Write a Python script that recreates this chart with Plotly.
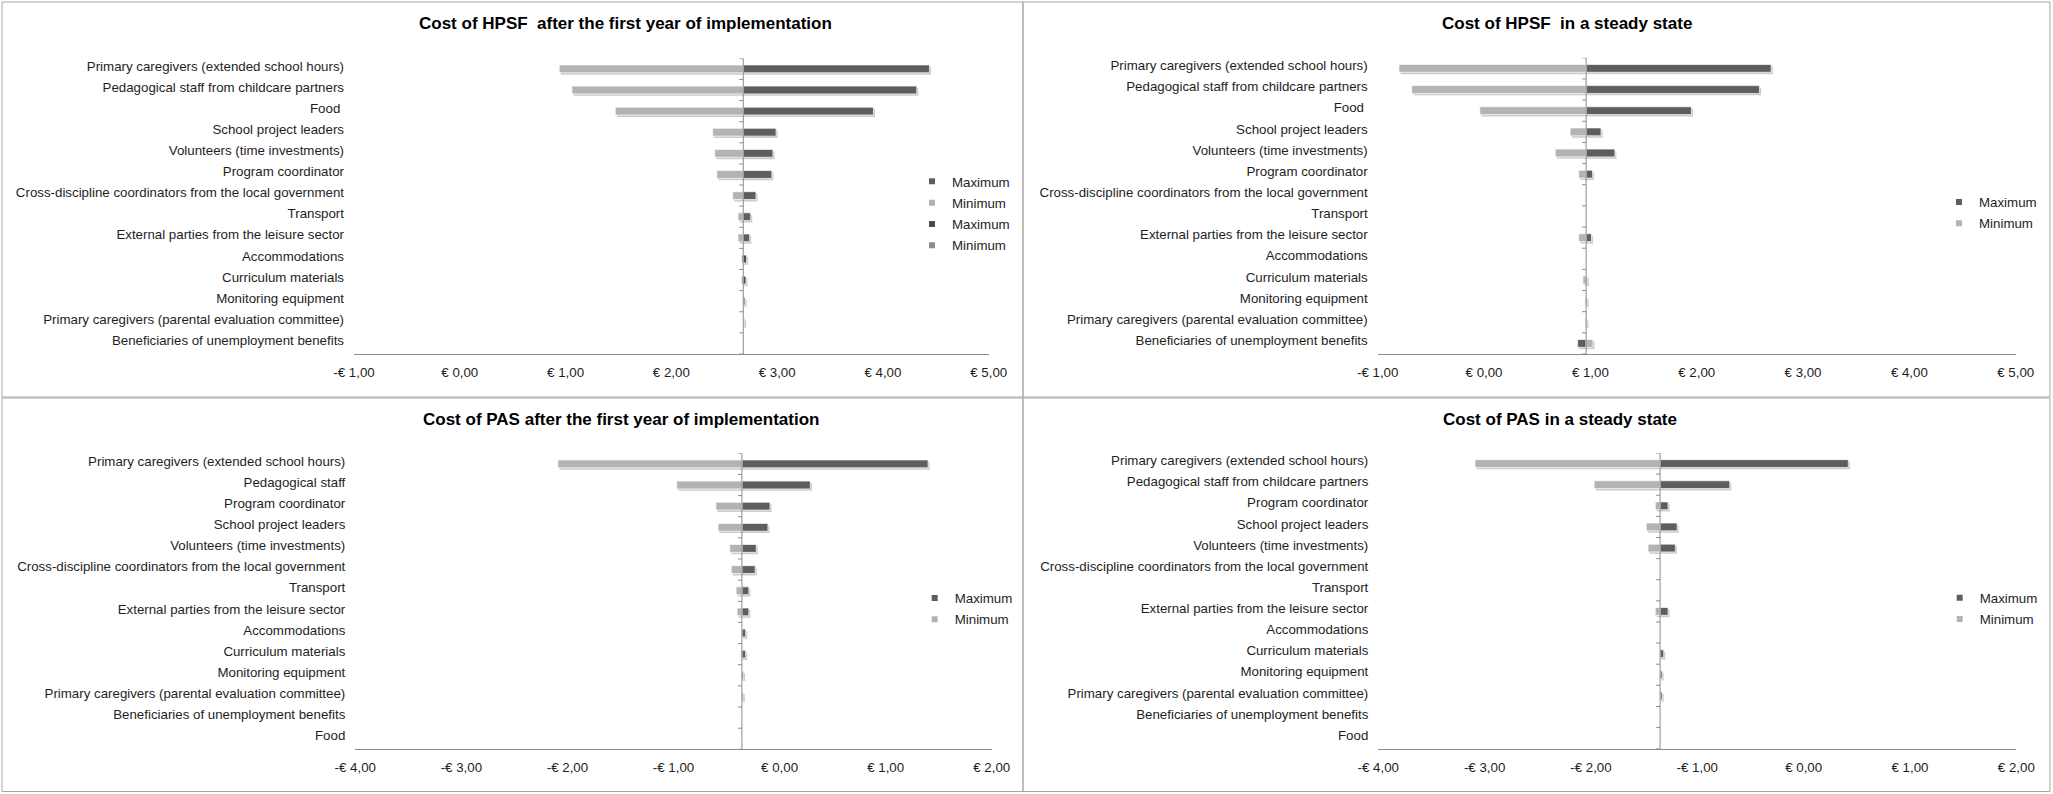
import plotly.graph_objects as go

# ---------------- data ----------------
hpsf_categories = [
    "Primary caregivers (extended school hours)",
    "Pedagogical staff from childcare partners",
    "Food\u00a0",
    "School project leaders",
    "Volunteers (time investments)",
    "Program coordinator",
    "Cross-discipline coordinators from the local government",
    "Transport",
    "External parties from the leisure sector",
    "Accommodations",
    "Curriculum materials",
    "Monitoring equipment",
    "Primary caregivers (parental evaluation committee)",
    "Beneficiaries of unemployment benefits",
]
pas_y1_categories = [
    "Primary caregivers (extended school hours)",
    "Pedagogical staff",
    "Program coordinator",
    "School project leaders",
    "Volunteers (time investments)",
    "Cross-discipline coordinators from the local government",
    "Transport",
    "External parties from the leisure sector",
    "Accommodations",
    "Curriculum materials",
    "Monitoring equipment",
    "Primary caregivers (parental evaluation committee)",
    "Beneficiaries of unemployment benefits",
    "Food",
]
pas_ss_categories = [
    "Primary caregivers (extended school hours)",
    "Pedagogical staff from childcare partners",
    "Program coordinator",
    "School project leaders",
    "Volunteers (time investments)",
    "Cross-discipline coordinators from the local government",
    "Transport",
    "External parties from the leisure sector",
    "Accommodations",
    "Curriculum materials",
    "Monitoring equipment",
    "Primary caregivers (parental evaluation committee)",
    "Beneficiaries of unemployment benefits",
    "Food",
]

# HPSF after first year (base case ~ EUR 2.68)
hpsf_y1_base = 2.68
hpsf_y1_max = [4.44, 4.32, 3.91, 2.99, 2.96, 2.95, 2.80, 2.75, 2.74, None, None, None, None, None]
hpsf_y1_min = [0.94, 1.06, 1.47, 2.39, 2.41, 2.43, 2.58, 2.63, 2.63, None, None, None, None, None]
hpsf_y1_max2 = [None, None, None, None, None, None, None, None, None, 2.71, 2.705, 2.695, 2.692, None]
hpsf_y1_min2 = [None, None, None, None, None, None, None, None, None, 2.665, 2.665, 2.675, 2.678, None]

# HPSF steady state (base case ~ EUR 0.96)
hpsf_ss_base = 0.96
hpsf_ss_max = [2.70, 2.59, 1.95, 1.10, 1.23, 1.02, None, None, 1.01, None, 0.97, 0.968, 0.967, 0.88]
hpsf_ss_min = [-0.80, -0.68, -0.04, 0.81, 0.67, 0.89, None, None, 0.89, None, 0.93, 0.95, 0.952, 1.025]

# PAS after first year (base case ~ -EUR 0.355)
pas_y1_base = -0.355
pas_y1_max = [1.40, 0.29, -0.09, -0.11, -0.22, -0.23, -0.29, -0.29, -0.32, -0.32, -0.34, -0.343, None, None]
pas_y1_min = [-2.09, -0.97, -0.60, -0.58, -0.47, -0.455, -0.41, -0.40, -0.362, -0.367, -0.36, -0.36, None, None]

# PAS steady state (base case ~ -EUR 1.35)
pas_ss_base = -1.35
pas_ss_max = [0.42, -0.695, -1.275, -1.19, -1.206, None, None, -1.275, None, -1.316, -1.331, -1.331, None, None]
pas_ss_min = [-3.09, -1.97, -1.395, -1.48, -1.463, None, None, -1.395, None, -1.357, -1.353, -1.353, None, None]

hpsf_tickvals = [-1, 0, 1, 2, 3, 4, 5]
hpsf_ticktext = ["-€ 1,00", "€ 0,00", "€ 1,00", "€ 2,00", "€ 3,00", "€ 4,00", "€ 5,00"]
pas_tickvals = [-4, -3, -2, -1, 0, 1, 2]
pas_ticktext = ["-€ 4,00", "-€ 3,00", "-€ 2,00", "-€ 1,00", "€ 0,00", "€ 1,00", "€ 2,00"]

titles = [
    "Cost of HPSF\u00a0 after the first year of implementation",
    "Cost of HPSF\u00a0 in a steady state",
    "Cost of PAS after the first year of implementation",
    "Cost of PAS in a steady state",
]

# ---------------- style ----------------
W, H = 2053, 794
FONT = "Liberation Sans, Arial, sans-serif"
DARK = "#5e5e5e"
LIGHT = "#b3b3b3"
DARK2 = "#4a4a4a"
MID2 = "#8c8c8c"
AXIS = "#8c8c8c"
TXT = "#1e1e1e"
BAR_W = 0.37
SHADOW_OFF = 0.09
SHADOW_PX = 1.6


def px2x(p):
    return p / W


def px2y(p):
    return 1 - p / H


panels = [
    dict(cats=hpsf_categories, base=hpsf_y1_base, xr=[-1, 5], tv=hpsf_tickvals, tt=hpsf_ticktext,
         xdom=(354, 988.7), ydom=(58.3, 354), title=titles[0], tpos=(625.5, 23),
         series=[("Maximum", hpsf_y1_max, DARK), ("Minimum", hpsf_y1_min, LIGHT),
                 ("Maximum", hpsf_y1_max2, DARK2), ("Minimum", hpsf_y1_min2, MID2)],
         leg=(955, 181.7)),
    dict(cats=hpsf_categories, base=hpsf_ss_base, xr=[-1, 5], tv=hpsf_tickvals, tt=hpsf_ticktext,
         xdom=(1377.7, 2015.7), ydom=(57.8, 354), title=titles[1], tpos=(1567.3, 23.3),
         series=[("Maximum", hpsf_ss_max, DARK), ("Minimum", hpsf_ss_min, LIGHT)],
         leg=(1982, 202.3)),
    dict(cats=pas_y1_categories, base=pas_y1_base, xr=[-4, 2], tv=pas_tickvals, tt=pas_ticktext,
         xdom=(355.3, 991.7), ydom=(453.3, 749.3), title=titles[2], tpos=(621.3, 419),
         series=[("Maximum", pas_y1_max, DARK), ("Minimum", pas_y1_min, LIGHT)],
         leg=(957.7, 598.3)),
    dict(cats=pas_ss_categories, base=pas_ss_base, xr=[-4, 2], tv=pas_tickvals, tt=pas_ticktext,
         xdom=(1378.3, 2016.3), ydom=(453, 748.7), title=titles[3], tpos=(1560, 419.3),
         series=[("Maximum", pas_ss_max, DARK), ("Minimum", pas_ss_min, LIGHT)],
         leg=(1982.7, 598)),
]

fig = go.Figure()
shapes = []
annotations = []
layout_axes = {}

for i, p in enumerate(panels):
    n = i + 1
    xa = "x" if n == 1 else f"x{n}"
    ya = "y" if n == 1 else f"y{n}"
    legname = "legend" if n == 1 else f"legend{n}"
    ypos = list(range(len(p["cats"])))
    base = p["base"]
    units_per_px = (p["xr"][1] - p["xr"][0]) / (p["xdom"][1] - p["xdom"][0])

    # shadows first (drawn underneath)
    for name, vals, col in p["series"]:
        lengths = [None if v is None else v - base for v in vals]
        fig.add_trace(go.Bar(
            orientation="h", y=ypos, x=lengths, base=base + SHADOW_PX * units_per_px,
            width=BAR_W, offset=-BAR_W / 2 + SHADOW_OFF,
            marker=dict(color="rgba(0,0,0,0.2)", line=dict(width=0)),
            showlegend=False, hoverinfo="skip", xaxis=xa, yaxis=ya,
        ))
    for name, vals, col in p["series"]:
        lengths = [None if v is None else v - base for v in vals]
        fig.add_trace(go.Bar(
            orientation="h", y=ypos, x=lengths, base=base,
            width=BAR_W, offset=-BAR_W / 2,
            marker=dict(color=col, line=dict(width=0.8, color="rgba(255,255,255,0.85)")),
            name=name, showlegend=False, xaxis=xa, yaxis=ya,
            customdata=vals, hovertemplate="%{customdata:.2f}<extra>" + name + "</extra>",
        ))
    # legend proxies
    for k, (name, vals, col) in enumerate(p["series"]):
        fig.add_trace(go.Scatter(
            x=[None], y=[None], mode="markers",
            marker=dict(symbol="square", size=6, color=col),
            name=name, legend=legname, legendgroup=f"g{n}_{k}",
            xaxis=xa, yaxis=ya,
        ))

    layout_axes["xaxis" if n == 1 else f"xaxis{n}"] = dict(
        domain=[px2x(p["xdom"][0]), px2x(p["xdom"][1])],
        anchor=ya, range=p["xr"], tickvals=p["tv"], ticktext=p["tt"],
        showline=True, linecolor=AXIS, linewidth=1, ticks="",
        showgrid=False, zeroline=False, ticklabelstandoff=6, automargin=False,
        tickfont=dict(family=FONT, size=13.3, color=TXT), fixedrange=True,
    )
    layout_axes["yaxis" if n == 1 else f"yaxis{n}"] = dict(
        domain=[px2y(p["ydom"][1]), px2y(p["ydom"][0])],
        anchor=xa, range=[len(p["cats"]) - 0.5, -0.5], tickvals=ypos, ticktext=p["cats"],
        showline=False, ticks="", showgrid=False, zeroline=False,
        ticklabelstandoff=9, ticklabelshift=3, automargin=False,
        tickfont=dict(family=FONT, size=13.3, color=TXT), fixedrange=True,
    )
    # vertical axis at the base case value
    shapes.append(dict(type="line", xref=xa, yref=ya, x0=base, x1=base,
                       y0=-0.5, y1=len(p["cats"]) - 0.5,
                       line=dict(color=AXIS, width=1), layer="above"))
    for k in range(len(p["cats"]) + 1):
        shapes.append(dict(type="line", xref=xa, yref=ya, xsizemode="pixel", xanchor=base,
                           x0=-4, x1=0, y0=k - 0.5, y1=k - 0.5,
                           line=dict(color=AXIS, width=1), layer="above"))
    annotations.append(dict(
        text=p["title"], xref="paper", yref="paper",
        x=px2x(p["tpos"][0]), y=px2y(p["tpos"][1]), xanchor="center", yanchor="middle",
        showarrow=False, font=dict(family=FONT, size=17, color="#000000", weight="bold"),
    ))
    layout_axes[legname] = dict(
        x=px2x(p["leg"][0] - 43), y=px2y(p["leg"][1] - 15.5), xanchor="left", yanchor="top",
        bgcolor="rgba(0,0,0,0)", borderwidth=0, tracegroupgap=1,
        font=dict(family=FONT, size=13.3, color=TXT),
    )

# panel frames
for (x0, y0, x1, y1) in [(2, 2, 1023, 397), (1023, 2, 2050, 397), (2, 398, 1023, 791.5), (1023, 398, 2050, 791.5)]:
    shapes.append(dict(type="rect", xref="paper", yref="paper",
                       x0=px2x(x0), x1=px2x(x1), y0=px2y(y1), y1=px2y(y0),
                       line=dict(color="#a6a6a6", width=1), fillcolor="rgba(0,0,0,0)", layer="below"))

fig.update_layout(
    width=W, height=H, margin=dict(l=0, r=0, t=0, b=0, autoexpand=False),
    paper_bgcolor="white", plot_bgcolor="white",
    barmode="overlay", showlegend=True,
    shapes=shapes, annotations=annotations,
    font=dict(family=FONT, size=13.3, color=TXT),
    **layout_axes,
)

fig.write_html(
    "out.html",
    config={"displayModeBar": False},
    post_script="document.body.style.margin='0';document.body.style.overflow='hidden';",
)
